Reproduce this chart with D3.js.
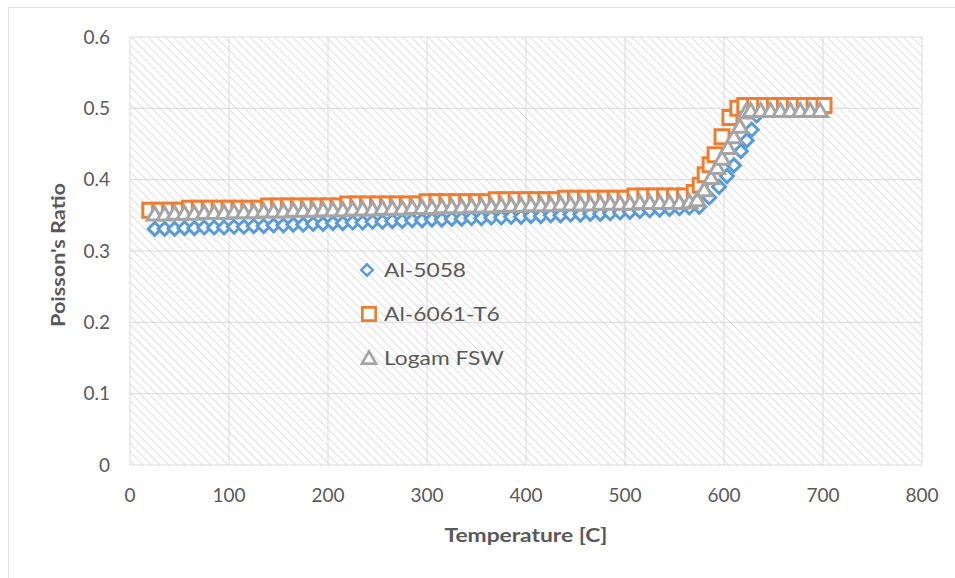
<!DOCTYPE html>
<html>
<head>
<meta charset="utf-8">
<script src="https://cdn.jsdelivr.net/npm/d3@7"></script>
<style>
  html, body { margin: 0; padding: 0; background: #fff; }
  svg { display: block; font-family: Lato, "Liberation Sans", sans-serif; }
</style>
</head>
<body>
<svg id="chart" width="955" height="578"></svg>
<script>
// Poisson's ratio vs temperature for three aluminium datasets.
const xTicks = [0, 100, 200, 300, 400, 500, 600, 700, 800];
const yTicks = [0, 0.1, 0.2, 0.3, 0.4, 0.5, 0.6];

// Al-5058 (blue diamonds)
const al5058T = [25, 35, 45, 55, 65, 75, 85, 95, 105, 115, 125, 135, 145, 155, 165, 175, 185, 195,
  205, 215, 225, 235, 245, 255, 265, 275, 285, 295, 305, 315, 325, 335, 345, 355, 365, 375, 385,
  395, 405, 415, 425, 435, 445, 455, 465, 475, 485, 495, 505, 515, 525, 535, 545, 555, 565,
  575, 585, 595, 603, 610, 617, 623, 628, 633, 638, 648, 658, 668, 678, 688, 698];
const al5058V = [0.331, 0.331, 0.331, 0.332, 0.332, 0.333, 0.333, 0.333, 0.334, 0.334, 0.335, 0.335,
  0.336, 0.336, 0.337, 0.337, 0.338, 0.338, 0.339, 0.339, 0.340, 0.340, 0.341, 0.341, 0.342, 0.342,
  0.343, 0.343, 0.344, 0.344, 0.345, 0.345, 0.346, 0.346, 0.347, 0.347, 0.348, 0.348, 0.349, 0.349,
  0.350, 0.350, 0.351, 0.351, 0.352, 0.352, 0.353, 0.354, 0.355, 0.356, 0.357, 0.358, 0.359, 0.360,
  0.361, 0.362, 0.375, 0.390, 0.405, 0.420, 0.440, 0.455, 0.470, 0.490, 0.500, 0.500, 0.500, 0.500,
  0.500, 0.500, 0.500];

// Al-6061-T6 (orange squares)
const al6061T = [20, 30, 40, 50, 60, 70, 80, 90, 100, 110, 120, 130, 140, 150, 160, 170, 180, 190,
  200, 210, 220, 230, 240, 250, 260, 270, 280, 290, 300, 310, 320, 330, 340, 350, 360, 370, 380,
  390, 400, 410, 420, 430, 440, 450, 460, 470, 480, 490, 500, 510, 520, 530, 540, 550, 560,
  570, 576, 581, 586, 591, 598, 606, 614, 621, 631, 641, 651, 661, 671, 681, 691, 701];
const al6061V = [0.357, 0.357, 0.357, 0.357, 0.360, 0.360, 0.360, 0.360, 0.360, 0.360, 0.360, 0.360,
  0.363, 0.363, 0.363, 0.363, 0.363, 0.363, 0.363, 0.363, 0.366, 0.366, 0.366, 0.366, 0.366, 0.366,
  0.366, 0.366, 0.369, 0.369, 0.369, 0.369, 0.369, 0.369, 0.369, 0.372, 0.372, 0.372, 0.372, 0.372,
  0.372, 0.372, 0.374, 0.374, 0.374, 0.374, 0.374, 0.374, 0.374, 0.377, 0.377, 0.377, 0.377, 0.377,
  0.377, 0.382, 0.392, 0.407, 0.421, 0.435, 0.460, 0.487, 0.500, 0.504, 0.504, 0.504, 0.504, 0.504,
  0.504, 0.504, 0.504, 0.504];

// Logam FSW (grey triangles)
const logamT = [25, 35, 45, 55, 65, 75, 85, 95, 105, 115, 125, 135, 145, 155, 165, 175, 185, 195,
  205, 215, 225, 235, 245, 255, 265, 275, 285, 295, 305, 315, 325, 335, 345, 355, 365, 375, 385,
  395, 405, 415, 425, 435, 445, 455, 465, 475, 485, 495, 505, 515, 525, 535, 545, 555, 565,
  573, 580, 587, 593, 598, 604, 610, 616, 622, 627, 637, 647, 657, 667, 677, 687, 697];
const logamV = [0.352, 0.352, 0.353, 0.353, 0.353, 0.354, 0.354, 0.354, 0.355, 0.355, 0.355, 0.356,
  0.356, 0.356, 0.357, 0.357, 0.357, 0.358, 0.358, 0.358, 0.359, 0.359, 0.359, 0.360, 0.360, 0.360,
  0.361, 0.361, 0.361, 0.362, 0.362, 0.362, 0.363, 0.363, 0.363, 0.364, 0.364, 0.364, 0.365, 0.365,
  0.365, 0.366, 0.366, 0.366, 0.366, 0.367, 0.367, 0.367, 0.367, 0.368, 0.368, 0.368, 0.368, 0.368,
  0.369, 0.372, 0.386, 0.403, 0.417, 0.430, 0.445, 0.460, 0.475, 0.495, 0.497, 0.497, 0.497, 0.497,
  0.497, 0.497, 0.497, 0.497];

const series = [
  { name: 'Al-5058', T: al5058T, V: al5058V, color: '#5b9bd5', shape: 'diamond' },
  { name: 'Al-6061-T6', T: al6061T, V: al6061V, color: '#ed7d31', shape: 'square' },
  { name: 'Logam FSW', T: logamT, V: logamV, color: '#a5a5a5', shape: 'triangle' }
];

const svg = d3.select('#chart');
const L = 130, R = 922, T = 37, B = 465;
const x = d3.scaleLinear().domain([0, 800]).range([L, R]);
const y = d3.scaleLinear().domain([0, 0.6]).range([B, T]);
const txt = '#595959', grid = '#d9d9d9';
const SX = 1.2; // the source picture is a bit stretched sideways

// outer chart border (only top/left show in the frame)
svg.append('rect').attr('x', 8.5).attr('y', 7.5).attr('width', 980).attr('height', 620)
  .attr('fill', 'none').attr('stroke', '#e2e2e2');

// hatched plot background
const pat = svg.append('defs').append('pattern').attr('id', 'hatch')
  .attr('patternUnits', 'userSpaceOnUse').attr('width', 6).attr('height', 6)
  .attr('patternTransform', 'rotate(-45)');
pat.append('line').attr('x1', 0).attr('y1', 0).attr('x2', 0).attr('y2', 6)
  .attr('stroke', '#dadada').attr('stroke-width', 1.7);
svg.append('rect').attr('x', L).attr('y', T).attr('width', R - L).attr('height', B - T)
  .attr('fill', 'url(#hatch)');

// gridlines
svg.append('g').selectAll('line').data(xTicks).join('line')
  .attr('x1', d => x(d)).attr('x2', d => x(d)).attr('y1', T).attr('y2', B)
  .attr('stroke', grid).attr('stroke-width', 1);
svg.append('g').selectAll('line').data(yTicks).join('line')
  .attr('x1', L).attr('x2', R).attr('y1', d => y(d)).attr('y2', d => y(d))
  .attr('stroke', grid).attr('stroke-width', 1);

// tick labels
svg.append('g').selectAll('text').data(yTicks).join('text')
  .attr('x', L - 20).attr('y', d => y(d)).attr('dy', '0.35em')
  .attr('text-anchor', 'end').attr('font-size', 19).attr('fill', txt)
  .text(d => d === 0 ? '0' : d3.format('.1f')(d));
svg.append('g').selectAll('text').data(xTicks).join('text')
  .attr('x', d => x(d)).attr('y', B + 30).attr('dy', '0.35em')
  .attr('text-anchor', 'middle').attr('font-size', 19).attr('fill', txt)
  .text(d => d);

// axis titles
svg.append('text').attr('transform', `translate(59,${(T + B) / 2 + 4}) rotate(-90) scale(${SX},1)`)
  .attr('text-anchor', 'middle').attr('dy', '0.35em').attr('font-size', 18)
  .attr('font-weight', 'bold').attr('fill', txt).text("Poisson's Ratio");
svg.append('text').attr('transform', `translate(${(L + R) / 2},535) scale(${SX},1)`)
  .attr('dy', '0.35em').attr('text-anchor', 'middle').attr('font-size', 19)
  .attr('font-weight', 'bold').attr('fill', txt).text('Temperature [C]');

// marker shapes
function markerPath(shape) {
  if (shape === 'diamond') return 'M0,-6.5L6.5,0L0,6.5L-6.5,0Z';
  if (shape === 'square') return 'M-7,-7H7V7H-7Z';
  return 'M0,-7L7.5,6L-7.5,6Z';
}

series.forEach(s => {
  const pts = s.T.map((t, i) => [t, s.V[i]]);
  svg.append('g').selectAll('path').data(pts).join('path')
    .attr('transform', d => `translate(${x(d[0])},${y(d[1])})`)
    .attr('d', markerPath(s.shape))
    .attr('fill', '#fff').attr('stroke', s.color).attr('stroke-width', 3);
});

// legend inside plot
const leg = svg.append('g').attr('transform', 'translate(369,270)');
series.forEach((s, i) => {
  const g = leg.append('g').attr('transform', `translate(0,${i * 44})`);
  g.append('path').attr('d', markerPath(s.shape))
    .attr('transform', s.shape === 'diamond' ? 'translate(-2,0) scale(0.88)' : 'scale(0.95)')
    .attr('fill', '#fff').attr('stroke', s.color).attr('stroke-width', 2.8);
  g.append('text').attr('transform', `translate(15,0) scale(${SX},1)`)
    .attr('dy', '0.35em').attr('font-size', 19)
    .attr('fill', txt).text(s.name);
});
</script>
</body>
</html>
